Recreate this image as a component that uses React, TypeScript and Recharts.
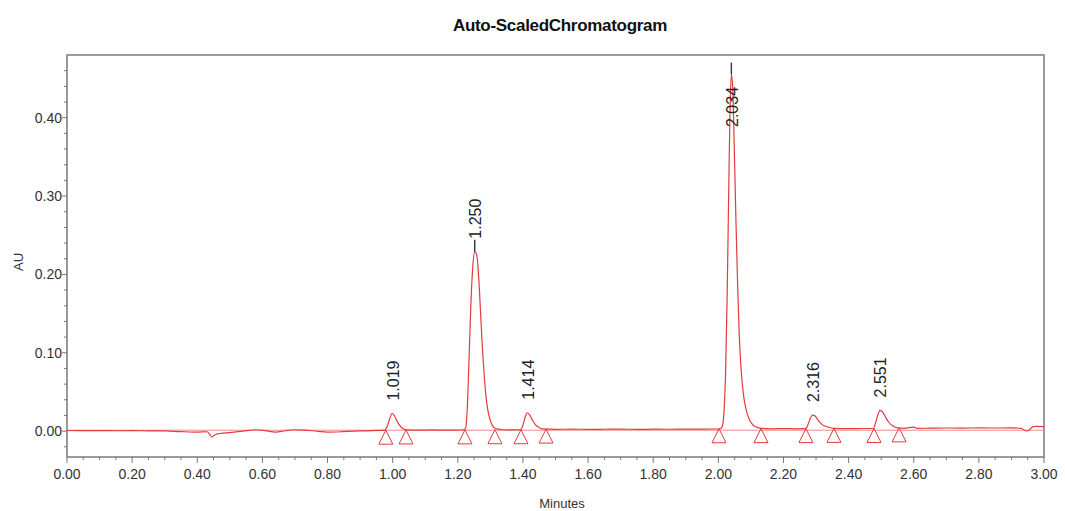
import React from "react";
import {
  ComposedChart,
  Line,
  Scatter,
  XAxis,
  YAxis,
  ReferenceLine,
  ReferenceArea,
} from "recharts";

// detector trace, minutes vs AU
const traceT = [
  0.0, 0.05, 0.1, 0.15, 0.2, 0.25, 0.3, 0.35, 0.4, 0.43, 0.437, 0.445, 0.455,
  0.47, 0.5, 0.54, 0.58, 0.61, 0.64, 0.67, 0.7, 0.73, 0.77, 0.8, 0.84, 0.88,
  0.92, 0.96, 0.975, 0.984, 0.991, 0.998, 1.005, 1.013, 1.022, 1.032, 1.045,
  1.08, 1.12, 1.16, 1.2, 1.218, 1.224, 1.229, 1.234, 1.24, 1.246, 1.252, 1.258,
  1.264, 1.27, 1.276, 1.282, 1.288, 1.295, 1.302, 1.31, 1.322, 1.34, 1.37,
  1.393, 1.401, 1.407, 1.413, 1.42, 1.428, 1.437, 1.448, 1.462, 1.5, 1.55, 1.6,
  1.65, 1.7, 1.75, 1.8, 1.85, 1.9, 1.95, 1.99, 2.005, 2.012, 2.017, 2.022,
  2.027, 2.032, 2.036, 2.04, 2.044, 2.049, 2.054, 2.059, 2.064, 2.07, 2.077,
  2.085, 2.094, 2.104, 2.115, 2.128, 2.16, 2.2, 2.24, 2.268, 2.276, 2.283,
  2.29, 2.298, 2.308, 2.32, 2.335, 2.355, 2.4, 2.44, 2.476, 2.484, 2.49, 2.496,
  2.503, 2.512, 2.522, 2.535, 2.55, 2.57, 2.6, 2.61, 2.65, 2.7, 2.75, 2.8, 2.85,
  2.9, 2.93, 2.945, 2.955, 2.965, 2.975, 3.0,
];
const traceAU = [
  0.0008, 0.0006, 0.0007, 0.0005, 0.0006, 0.0004, 0.0003, -0.0006, -0.0012,
  -0.0008, -0.0035, -0.0075, -0.0045, -0.003, -0.0018, 0.0, 0.0018, 0.0006,
  -0.0012, 0.0005, 0.0018, 0.0014, -0.0002, -0.0012, -0.0008, 0.0, 0.0004,
  0.001, 0.0012, 0.007, 0.016, 0.0225, 0.02, 0.013, 0.007, 0.003, 0.0015,
  0.0012, 0.0016, 0.0012, 0.0014, 0.0016, 0.004, 0.028, 0.085, 0.16, 0.21,
  0.229, 0.225, 0.198, 0.15, 0.103, 0.066, 0.039, 0.021, 0.011, 0.005, 0.0025,
  0.0018, 0.0016, 0.0018, 0.009, 0.018, 0.0235, 0.021, 0.015, 0.009, 0.005,
  0.0028, 0.0022, 0.0026, 0.0022, 0.0024, 0.0026, 0.0022, 0.0025, 0.0024,
  0.0026, 0.0025, 0.0027, 0.003, 0.006, 0.022, 0.07, 0.17, 0.31, 0.41, 0.455,
  0.44, 0.36, 0.27, 0.19, 0.125, 0.078, 0.047, 0.028, 0.016, 0.009, 0.0055,
  0.0038, 0.003, 0.0032, 0.003, 0.0032, 0.009, 0.017, 0.0205, 0.019, 0.013,
  0.008, 0.0055, 0.0035, 0.0032, 0.0034, 0.0034, 0.012, 0.021, 0.0265, 0.025,
  0.019, 0.012, 0.007, 0.0042, 0.0036, 0.0052, 0.0036, 0.0038, 0.004, 0.0039,
  0.0041, 0.004, 0.0041, 0.0036, 0.0002, 0.0015, 0.0055, 0.0062, 0.0058,
];

// integrated peaks
const peakLabels = ["1.019", "1.250", "1.414", "2.034", "2.316", "2.551"];
const peakApexT = [0.998, 1.252, 1.413, 2.04, 2.29, 2.496];
const peakApexAU = [0.0225, 0.229, 0.0235, 0.455, 0.0205, 0.0265];

// start / end markers
const markerT = [
  0.979, 1.041, 1.222, 1.314, 1.394, 1.471, 2.002, 2.131, 2.269, 2.355, 2.478,
  2.555,
];
const markerAU = [
  0.0012, 0.0015, 0.0016, 0.0018, 0.0018, 0.0026, 0.003, 0.0032, 0.0032,
  0.0035, 0.0034, 0.0042,
];

const trace = traceT.map((t, i) => ({ t, v: traceAU[i] }));
const peaks = peakApexT.map((t, i) => ({
  t,
  v: peakApexAU[i],
  label: peakLabels[i],
}));
const markers = markerT.map((t, i) => ({ t, v: markerAU[i] }));

const xTicks: number[] = [];
for (let i = 0; i <= 60; i++) xTicks.push(Number((i * 0.05).toFixed(2)));
const yTicks: number[] = [];
for (let i = -1; i <= 23; i++) yTicks.push(Number((i * 0.02).toFixed(2)));

const FONT = "'Liberation Sans', Arial, sans-serif";
const PLOT_TOP = 55;
const RED = "#e53a3f";

function XTick(props: any) {
  const { x, y, payload } = props;
  const v = payload.value;
  const major = Math.round(v * 100) % 20 === 0;
  return (
    <g>
      <line x1={x} x2={x} y1={y} y2={y + (major ? 6 : 3)} stroke="#777" />
      {major && (
        <text
          x={x}
          y={y + 22}
          textAnchor="middle"
          fontSize={14}
          fill="#333"
          fontFamily={FONT}
        >
          {v.toFixed(2)}
        </text>
      )}
    </g>
  );
}

function YTick(props: any) {
  const { x, y, payload } = props;
  const v = payload.value;
  const major = Math.round(v * 100) % 10 === 0;
  return (
    <g>
      <line x1={x} x2={x - (major ? 5 : 3)} y1={y} y2={y} stroke="#777" />
      {major && (
        <text
          x={x - 5}
          y={y + 5}
          textAnchor="end"
          fontSize={14}
          fill="#333"
          fontFamily={FONT}
        >
          {v.toFixed(2)}
        </text>
      )}
    </g>
  );
}

function PeakMark(props: any) {
  const { cx, cy, payload } = props;
  const labelLen = 40;
  const bottom = Math.max(cy - 13, PLOT_TOP + 32 + labelLen);
  const tall = payload.v > 0.1;
  return (
    <g>
      {tall && (
        <line x1={cx} x2={cx} y1={cy} y2={cy - 12} stroke="#333" strokeWidth={1.4} />
      )}
      <text
        x={cx + 1}
        y={bottom}
        transform={`rotate(-90 ${cx + 1} ${bottom})`}
        textAnchor="start"
        dominantBaseline="central"
        fontSize={16}
        fill="#222"
        fontFamily={FONT}
      >
        {payload.label}
      </text>
    </g>
  );
}

function Triangle(props: any) {
  const { cx, cy } = props;
  return (
    <path
      d={`M${cx},${cy} L${cx - 7},${cy + 14} L${cx + 7},${cy + 14} Z`}
      fill="none"
      stroke={RED}
      strokeWidth={1}
    />
  );
}

export default function App() {
  return (
    <div
      style={{
        position: "absolute",
        left: 0,
        top: 0,
        width: 1065,
        height: 511,
        background: "#fff",
        fontFamily: FONT,
      }}
    >
      <div
        style={{
          position: "absolute",
          left: 0,
          width: 1120,
          top: 16,
          textAlign: "center",
          fontSize: 17,
          fontWeight: "bold",
          letterSpacing: -0.3,
          color: "#111",
        }}
      >
        Auto-ScaledChromatogram
      </div>
      <div
        style={{
          position: "absolute",
          left: 18,
          top: 262,
          fontSize: 13,
          color: "#333",
          transform: "translate(-50%,-50%) rotate(-90deg)",
        }}
      >
        AU
      </div>
      <div
        style={{
          position: "absolute",
          left: 562,
          top: 503,
          fontSize: 13,
          color: "#333",
          transform: "translate(-50%,-50%)",
        }}
      >
        Minutes
      </div>
      <ComposedChart
        width={1065}
        height={511}
        margin={{ top: PLOT_TOP, right: 21, left: 0, bottom: 24 }}
      >
        <XAxis
          type="number"
          dataKey="t"
          domain={[0, 3]}
          ticks={xTicks}
          interval={0}
          tickSize={0}
          tickMargin={0}
          tickLine={false}
          tick={XTick}
          axisLine={false}
          height={30}
          allowDataOverflow
        />
        <YAxis
          type="number"
          dataKey="v"
          domain={[-0.033, 0.48]}
          ticks={yTicks}
          interval={0}
          tickSize={0}
          tickMargin={0}
          tickLine={false}
          tick={YTick}
          axisLine={false}
          width={67}
          allowDataOverflow
        />
        <ReferenceArea
          x1={0}
          x2={3}
          y1={-0.033}
          y2={0.48}
          fill="none"
          stroke="#9a9a9a"
          strokeWidth={2}
        />
        <ReferenceLine y={0.0012} stroke="#f08a8d" strokeWidth={1} />
        <Line
          data={trace}
          dataKey="v"
          type="monotone"
          stroke={RED}
          strokeWidth={1.2}
          dot={false}
          isAnimationActive={false}
        />
        <Scatter
          data={markers}
          dataKey="v"
          shape={Triangle}
          isAnimationActive={false}
        />
        <Scatter
          data={peaks}
          dataKey="v"
          shape={PeakMark}
          isAnimationActive={false}
        />
      </ComposedChart>
    </div>
  );
}
